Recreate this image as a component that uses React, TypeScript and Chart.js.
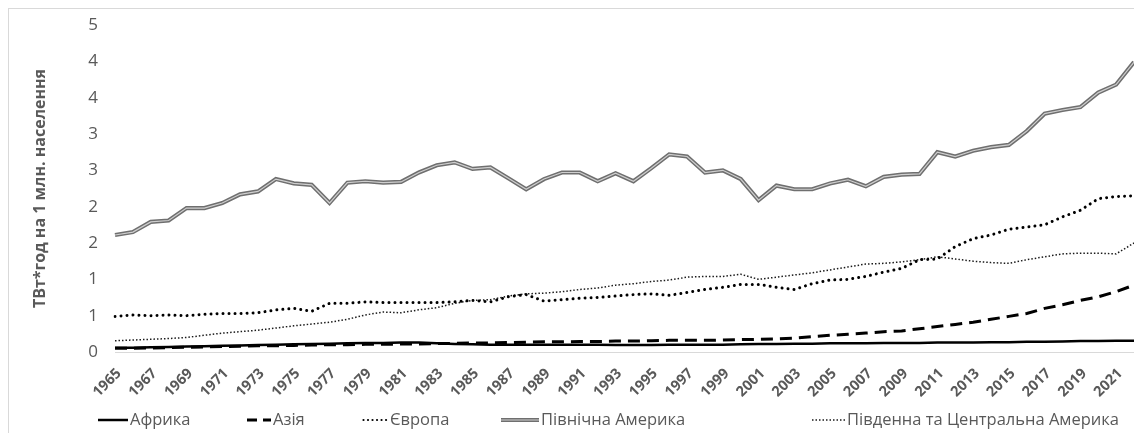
import React, { useEffect, useRef } from "react";
import { Chart, registerables } from "chart.js";

Chart.register(...registerables);

const years = [
  "1965", "1966", "1967", "1968", "1969", "1970", "1971", "1972", "1973", "1974",
  "1975", "1976", "1977", "1978", "1979", "1980", "1981", "1982", "1983", "1984",
  "1985", "1986", "1987", "1988", "1989", "1990", "1991", "1992", "1993", "1994",
  "1995", "1996", "1997", "1998", "1999", "2000", "2001", "2002", "2003", "2004",
  "2005", "2006", "2007", "2008", "2009", "2010", "2011", "2012", "2013", "2014",
  "2015", "2016", "2017", "2018", "2019", "2020", "2021", "2022",
];

const africa = [
  0.06, 0.06, 0.065, 0.07, 0.075, 0.08, 0.085, 0.09, 0.095, 0.1,
  0.105, 0.11, 0.115, 0.12, 0.125, 0.125, 0.13, 0.13, 0.12, 0.11,
  0.105, 0.1, 0.1, 0.1, 0.1, 0.1, 0.1, 0.1, 0.095, 0.095,
  0.095, 0.1, 0.1, 0.1, 0.1, 0.105, 0.11, 0.11, 0.115, 0.115,
  0.12, 0.12, 0.12, 0.125, 0.125, 0.125, 0.13, 0.13, 0.13, 0.135,
  0.135, 0.14, 0.14, 0.145, 0.15, 0.15, 0.155, 0.155,
];

const asia = [
  0.05, 0.05, 0.055, 0.06, 0.065, 0.07, 0.075, 0.08, 0.085, 0.085,
  0.09, 0.095, 0.1, 0.1, 0.105, 0.105, 0.11, 0.11, 0.115, 0.12,
  0.125, 0.125, 0.13, 0.135, 0.14, 0.14, 0.145, 0.145, 0.15, 0.15,
  0.155, 0.16, 0.16, 0.16, 0.165, 0.17, 0.175, 0.18, 0.19, 0.21,
  0.23, 0.245, 0.26, 0.28, 0.29, 0.32, 0.35, 0.38, 0.41, 0.45,
  0.49, 0.53, 0.6, 0.65, 0.71, 0.76, 0.83, 0.92,
];

const europe = [
  0.49, 0.51, 0.5, 0.51, 0.5, 0.52, 0.53, 0.53, 0.54, 0.58,
  0.6, 0.56, 0.67, 0.67, 0.69, 0.68, 0.68, 0.68, 0.68, 0.69,
  0.71, 0.69, 0.76, 0.79, 0.7, 0.72, 0.74, 0.75, 0.77, 0.79,
  0.8, 0.78, 0.82, 0.86, 0.89, 0.93, 0.93, 0.89, 0.86, 0.94,
  0.99, 1.0, 1.04, 1.1, 1.15, 1.27, 1.28, 1.45, 1.56, 1.61,
  1.69, 1.72, 1.75, 1.86, 1.95, 2.11, 2.14, 2.15,
];

const northAmerica = [
  1.61, 1.65, 1.79, 1.81, 1.98, 1.98, 2.05, 2.17, 2.21, 2.38,
  2.32, 2.3, 2.05, 2.33, 2.35, 2.33, 2.34, 2.47, 2.57, 2.61,
  2.52, 2.54, 2.39, 2.24, 2.38, 2.47, 2.47, 2.35, 2.46, 2.35,
  2.53, 2.72, 2.69, 2.47, 2.5, 2.38, 2.09, 2.29, 2.24, 2.24,
  2.32, 2.37, 2.28, 2.41, 2.44, 2.45, 2.75, 2.69, 2.77, 2.82,
  2.85, 3.04, 3.28, 3.33, 3.37, 3.57, 3.68, 3.99,
];

const southCentralAmerica = [
  0.155, 0.165, 0.175, 0.185, 0.2, 0.23, 0.26, 0.28, 0.3, 0.33,
  0.36, 0.385, 0.41, 0.45, 0.51, 0.55, 0.54, 0.58, 0.61, 0.67,
  0.71, 0.72, 0.77, 0.8, 0.81, 0.83, 0.86, 0.88, 0.92, 0.94,
  0.97, 0.99, 1.03, 1.04, 1.04, 1.07, 1.0, 1.03, 1.06, 1.09,
  1.13, 1.17, 1.21, 1.22, 1.24, 1.27, 1.31, 1.28, 1.25, 1.23,
  1.22, 1.27, 1.31, 1.35, 1.36, 1.36, 1.35, 1.5,
];

const seriesNames = [
  "Африка",
  "Азія",
  "Європа",
  "Північна Америка",
  "Південна та Центральна Америка",
];

const yTitle = "ТВт*год на 1 млн. населення";

const TEXT = "#595959";
const FONT = "'Open Sans', 'Noto Sans', sans-serif";
const NA_OUTER = "#6f6f6f";
const NA_INNER = "#cfcfcf";
const CANVAS_W = 1125;
const CANVAS_H = 424;

// legend layout (canvas px): marker start x and marker length, per series
const legendX = [89, 238, 353, 492, 803];
const legendLen = [30, 24, 26, 38, 33];
const LEGEND_Y = 411;

const customLegend = {
  id: "customLegend",
  afterDraw(chart: any) {
    const ctx = chart.ctx;
    ctx.save();
    ctx.font = `16.5px ${FONT}`;
    ctx.textBaseline = "middle";
    ctx.textAlign = "left";
    for (let i = 0; i < seriesNames.length; i++) {
      const ds = chart.data.datasets[i];
      const x0 = legendX[i];
      const len = legendLen[i];
      ctx.save();
      ctx.strokeStyle = ds.borderColor;
      ctx.lineWidth = i === 2 ? 2.2 : ds.borderWidth;
      ctx.lineCap = ds.borderCapStyle || "butt";
      ctx.setLineDash(i === 2 ? [0.01, 4.5] : i === 1 ? [10, 6] : ds.borderDash || []);
      ctx.beginPath();
      const off = i === 2 ? 1.5 : 0;
      ctx.moveTo(x0 + off, LEGEND_Y);
      ctx.lineTo(x0 + len, LEGEND_Y);
      ctx.stroke();
      if (i === 3) {
        ctx.setLineDash([]);
        ctx.strokeStyle = NA_INNER;
        ctx.lineWidth = 1.2;
        ctx.beginPath();
        ctx.moveTo(x0, LEGEND_Y);
        ctx.lineTo(x0 + len, LEGEND_Y);
        ctx.stroke();
      }
      ctx.restore();
      ctx.fillStyle = TEXT;
      ctx.fillText(seriesNames[i], x0 + len + 2, LEGEND_Y);
    }
    ctx.restore();
  },
};

export default function App() {
  const ref = useRef<HTMLCanvasElement | null>(null);

  useEffect(() => {
    if (!ref.current) return;
    const common = { pointRadius: 0, pointHoverRadius: 0, tension: 0, fill: false };
    const chart = new Chart(ref.current, {
      type: "line",
      data: {
        labels: years,
        datasets: [
          {
            ...common,
            label: seriesNames[0],
            data: africa,
            borderColor: "#000000",
            backgroundColor: "#000000",
            borderWidth: 2.5,
            order: 0,
          },
          {
            ...common,
            label: seriesNames[1],
            data: asia,
            borderColor: "#000000",
            backgroundColor: "#000000",
            borderWidth: 3,
            borderDash: [12, 7],
            order: 1,
          },
          {
            ...common,
            label: seriesNames[2],
            data: europe,
            borderColor: "#000000",
            backgroundColor: "#000000",
            borderWidth: 3,
            borderDash: [0.01, 6],
            borderCapStyle: "round",
            order: 2,
          },
          {
            ...common,
            label: seriesNames[3],
            data: northAmerica,
            borderColor: NA_OUTER,
            backgroundColor: NA_OUTER,
            borderWidth: 4.2,
            order: 4,
          },
          {
            ...common,
            label: seriesNames[4],
            data: southCentralAmerica,
            borderColor: "#1a1a1a",
            backgroundColor: "#1a1a1a",
            borderWidth: 1.5,
            borderDash: [1.5, 2],
            order: 5,
          },
          {
            ...common,
            label: "inner",
            data: northAmerica,
            borderColor: NA_INNER,
            backgroundColor: NA_INNER,
            borderWidth: 1.2,
            order: 3,
          },
        ],
      },
      options: {
        animation: false,
        responsive: false,
        devicePixelRatio: 1,
        layout: { padding: { top: 16, left: 0, right: 0, bottom: 31 } },
        plugins: {
          tooltip: { enabled: false },
          legend: { display: false },
        },
        scales: {
          x: {
            grid: { display: false, drawTicks: false },
            border: { display: true, color: "#d9d9d9", width: 1 },
            afterFit: (scale: any) => {
              scale.height = 50;
              scale.paddingLeft = 0;
              scale.paddingRight = 0;
            },
            ticks: {
              autoSkip: false,
              minRotation: 45,
              maxRotation: 45,
              padding: 13,
              labelOffset: 4,
              color: TEXT,
              font: { family: FONT, size: 14.5, weight: "bold" },
              callback: (_v: any, i: number) => (i % 2 === 0 ? years[i] : ""),
            },
          },
          y: {
            min: 0,
            max: 4.5,
            grid: { display: false, drawTicks: false },
            border: { display: false },
            afterFit: (scale: any) => {
              scale.width = 106;
              scale.paddingTop = 0;
              scale.paddingBottom = 0;
            },
            ticks: {
              stepSize: 0.5,
              padding: 17,
              color: TEXT,
              font: { family: FONT, size: 17 },
              callback: (v: any) => String(Math.round(Number(v))),
            },
            title: {
              display: true,
              text: yTitle,
              color: TEXT,
              padding: 22,
              font: { family: FONT, size: 16, weight: "bold" },
            },
          },
        },
      },
      plugins: [customLegend],
    });
    return () => chart.destroy();
  }, []);

  return (
    <div
      style={{
        width: CANVAS_W,
        height: CANVAS_H,
        overflow: "hidden",
        borderTop: "1px solid #d9d9d9",
        borderLeft: "1px solid #d9d9d9",
        background: "#ffffff",
      }}
    >
      <canvas
        ref={ref}
        width={CANVAS_W}
        height={CANVAS_H}
        style={{ display: "block", width: CANVAS_W, height: CANVAS_H }}
      />
    </div>
  );
}
